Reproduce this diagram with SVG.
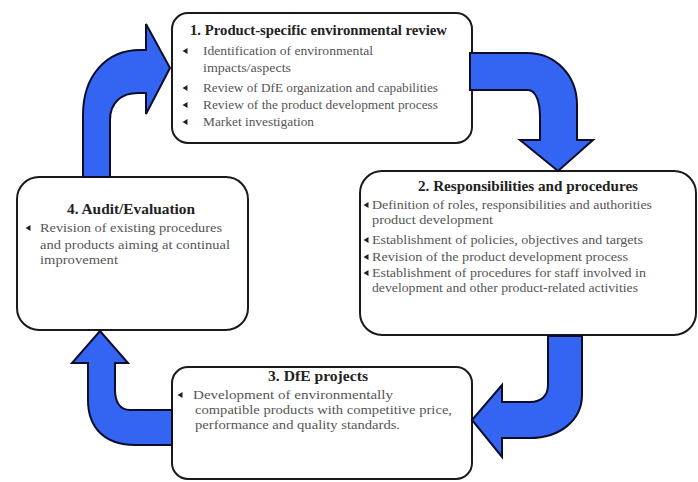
<svg xmlns="http://www.w3.org/2000/svg" width="698" height="482" viewBox="0 0 698 482">
<style>
.box{fill:#fff;stroke:#1a1a1a;stroke-width:2}
.arr{fill:#3465f2;stroke:#0d0d2a;stroke-width:2;stroke-linejoin:miter}
text{font-family:"Liberation Serif","DejaVu Serif",serif}
.t{font-weight:bold;fill:#222;font-size:14px}
.b{fill:#555;font-size:13px}
.bul{fill:#222}
</style>
<defs>
<path id="bul" d="M-2.5,0 L2.5,-3 L2.5,3 Z"/>
</defs>
<rect width="698" height="482" fill="#fff"/>
<g id="n1">
<rect class="box" x="172" y="13" width="300" height="130" rx="16"/>
<text class="t" x="190" y="35" textLength="257" lengthAdjust="spacingAndGlyphs">1. Product-specific environmental review</text>
<use href="#bul" class="bul" x="185" y="51"/>
<text class="b" x="203" y="55" textLength="170" lengthAdjust="spacingAndGlyphs">Identification of environmental</text>
<text class="b" x="203" y="72" textLength="88" lengthAdjust="spacingAndGlyphs">impacts/aspects</text>
<use href="#bul" class="bul" x="185" y="88"/>
<text class="b" x="203" y="92" textLength="235" lengthAdjust="spacingAndGlyphs">Review of DfE organization and capabilities</text>
<use href="#bul" class="bul" x="185" y="105"/>
<text class="b" x="203" y="109" textLength="235" lengthAdjust="spacingAndGlyphs">Review of the product development process</text>
<use href="#bul" class="bul" x="185" y="122"/>
<text class="b" x="203" y="126" textLength="111" lengthAdjust="spacingAndGlyphs">Market investigation</text>
</g>
<g id="n2">
<rect class="box" x="360" y="171" width="336" height="164" rx="22"/>
<text class="t" x="418" y="191" textLength="220" lengthAdjust="spacingAndGlyphs">2. Responsibilities and procedures</text>
<use href="#bul" class="bul" x="366" y="205"/>
<text class="b" x="372" y="209" textLength="280" lengthAdjust="spacingAndGlyphs">Definition of roles, responsibilities and authorities</text>
<text class="b" x="372" y="224" textLength="121" lengthAdjust="spacingAndGlyphs">product development</text>
<use href="#bul" class="bul" x="366" y="240"/>
<text class="b" x="372" y="244" textLength="271" lengthAdjust="spacingAndGlyphs">Establishment of policies, objectives and targets</text>
<use href="#bul" class="bul" x="366" y="257"/>
<text class="b" x="372" y="261" textLength="256" lengthAdjust="spacingAndGlyphs">Revision of the product development process</text>
<use href="#bul" class="bul" x="366" y="273"/>
<text class="b" x="372" y="277" textLength="274" lengthAdjust="spacingAndGlyphs">Establishment of procedures for staff involved in</text>
<text class="b" x="372" y="292" textLength="266" lengthAdjust="spacingAndGlyphs">development and other product-related activities</text>
</g>
<g id="n3">
<rect class="box" x="172" y="367" width="300" height="112" rx="16"/>
<text class="t" x="268" y="381" textLength="100" lengthAdjust="spacingAndGlyphs">3. DfE projects</text>
<use href="#bul" class="bul" x="180" y="395"/>
<text class="b" x="193" y="399" textLength="200" lengthAdjust="spacingAndGlyphs">Development of environmentally</text>
<text class="b" x="195" y="414" textLength="257" lengthAdjust="spacingAndGlyphs">compatible products with competitive price,</text>
<text class="b" x="195" y="429" textLength="205" lengthAdjust="spacingAndGlyphs">performance and quality standards.</text>
</g>
<g id="n4">
<rect class="box" x="17" y="177" width="231" height="153" rx="22"/>
<text class="t" x="67" y="214" textLength="128" lengthAdjust="spacingAndGlyphs">4. Audit/Evaluation</text>
<use href="#bul" class="bul" x="28" y="228"/>
<text class="b" x="40" y="232" textLength="182" lengthAdjust="spacingAndGlyphs">Revision of existing procedures</text>
<text class="b" x="40" y="249" textLength="190" lengthAdjust="spacingAndGlyphs">and products aiming at continual</text>
<text class="b" x="40" y="264" textLength="78" lengthAdjust="spacingAndGlyphs">improvement</text>
</g>
<g id="connectors">
<path class="arr" d="M83,177 L83,115 C83,76 106,50 140,50 L146,50 L146,24 L170,68 L146,114 L146,93 L138,93 C122,93 110,102 110,120 L110,177 Z"/>
<path class="arr" d="M470,53 L527,53 C555,53 577,75 577,105 L577,140 L593,140 L558,171 L520,140 L540,140 L540,117 C540,100 535,90 528,90 L470,90 Z"/>
<path class="arr" d="M548,336 L582,336 L582,395 C582,420 560,438 530,438 L502,438 L502,457 L472,420 L502,385 L502,402 L530,402 C542,402 548,395 548,385 Z"/>
<path class="arr" d="M172,410 L130,410 C120,410 115,402 115,390 L115,363 L128,363 L100,331 L72,363 L88,363 L88,400 C88,428 105,445 135,445 L172,445 Z"/>
</g>
</svg>
